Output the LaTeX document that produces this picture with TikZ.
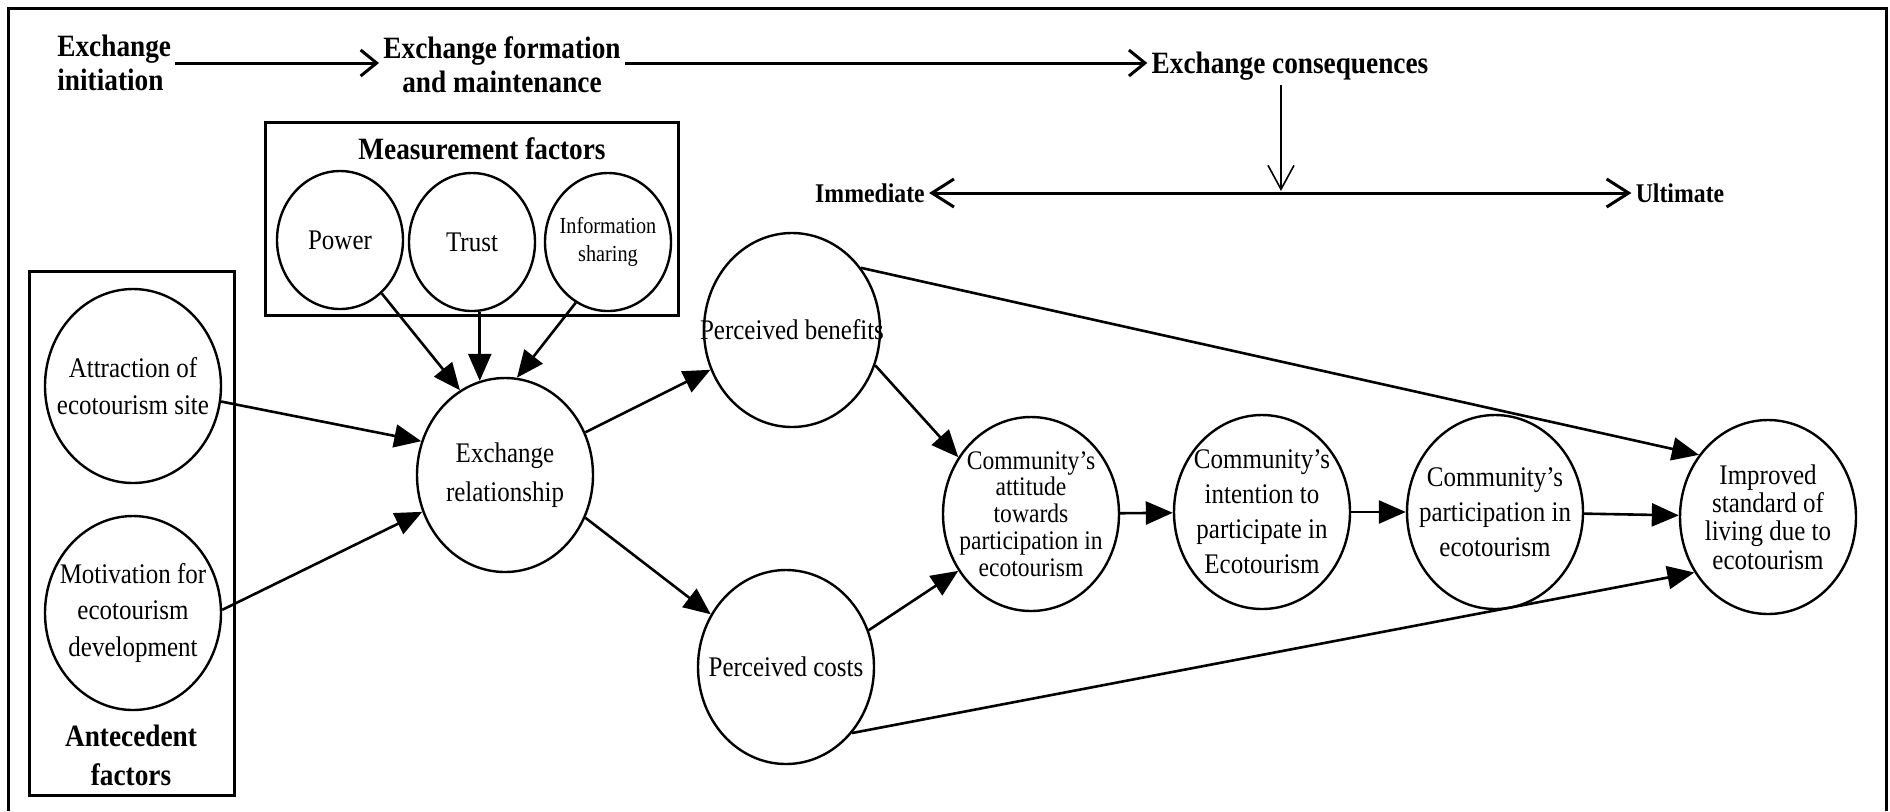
\documentclass[tikz,border=0pt]{standalone}
\usepackage{fontspec}
\setmainfont{Liberation Serif}[FakeStretch=0.88]
\usetikzlibrary{arrows.meta,shapes.geometric}
\begin{document}
\begin{tikzpicture}[x=0.5pt,y=-0.5pt,
  big/.style={draw, ellipse, line width=1.2pt, minimum width=88pt, minimum height=97pt, inner sep=0pt},
  small/.style={draw, ellipse, line width=1.2pt, minimum width=63pt, minimum height=69pt, inner sep=0pt},
  lbl/.style={align=center, inner sep=0pt, font=\fontsize{14.2}{#1}\selectfont},
  lbl/.default=18,
  hd/.style={align=center, inner sep=2pt, font=\bfseries\fontsize{15.5}{17}\selectfont},
  sub/.style={inner sep=2pt, font=\bfseries\fontsize{13.5}{16}\selectfont},
  box/.style={draw, line width=1.5pt},
  arr/.style={line width=1.3pt, -{Triangle[length=13.5pt,width=11.5pt]}},
  open/.style={line width=1.5pt, -{Straight Barb[length=8pt,width=13pt,line width=1.5pt]}},
  openthin/.style={line width=0.8pt, -{Straight Barb[length=12pt,width=13pt,line width=0.8pt]}},
  both/.style={line width=1.5pt, {Straight Barb[length=11pt,width=14pt,line width=1.5pt]}-{Straight Barb[length=11pt,width=14pt,line width=1.5pt]}}
]
\useasboundingbox (0,0) rectangle (1890,811);
\fill[white] (0,0) rectangle (1890,811);
% outer frame
\draw[line width=1.5pt] (8,811) -- (8,8) -- (1886,8) -- (1886,811);

% top stage headings
\node[hd, anchor=west, align=left] (init) at (53,63) {Exchange\\initiation};
\node[hd] (form) at (502,65) {Exchange formation\\and maintenance};
\node[hd] (cons) at (1290,66) {Exchange consequences};
\node[sub] (imm) at (870,193) {Immediate};
\node[sub] (ult) at (1680,193) {Ultimate};
\coordinate (mid) at (1281,193);

\draw[open] (init.east) -- (init.east -| form.west);
\draw[open] (form.east |- init.east) -- (init.east -| cons.west);
\draw[openthin] (cons.south -| mid) -- ([yshift=1pt]mid);
\draw[both] (imm.east) -- (ult.west);

% boxes
\draw[box] (265,122) rectangle (678,315);
\node[hd] (meas) at (482,149) {Measurement factors};
\draw[box] (29,271) rectangle (234,795);
\node[hd, font=\bfseries\fontsize{15.5}{19.5}\selectfont] (ante) at (131,755) {Antecedent\\factors};

% circles
\node[small] (power) at (340,240) {};
\node[small] (trust) at (472,242) {};
\node[small] (info) at (608,242) {};
\node[big] (attr) at (133,386) {};
\node[big] (mot) at (133,613) {};
\node[big] (exrel) at (505,475) {};
\node[big] (ben) at (792,330) {};
\node[big] (cost) at (786,667) {};
\node[big] (att) at (1031,514) {};
\node[big] (int) at (1262,512) {};
\node[big] (part) at (1495,512) {};
\node[big] (imp) at (1768,517) {};

% texts
\node[lbl] at (power.center) {Power};
\node[lbl] at (trust.center) {Trust};
\node[align=center, inner sep=0pt, font=\fontsize{11.5}{14}\selectfont] at (info.center) {Information\\sharing};
\node[lbl=18.5] at (attr.center) {Attraction of\\ecotourism site};
\node[lbl=18.4] at (mot.center) {Motivation for\\ecotourism\\development};
\node[lbl=19.2] at (exrel.center) {Exchange\\relationship};
\node[lbl] at (ben.center) {Perceived benefits};
\node[lbl] at (cost.center) {Perceived costs};
\node[align=center, inner sep=0pt, font=\fontsize{13.4}{13.4}\selectfont] at (att.center) {Community’s\\attitude\\towards\\participation in\\ecotourism};
\node[lbl=17.5] at (int.center) {Community’s\\intention to\\participate in\\Ecotourism};
\node[lbl=17.5] at (part.center) {Community’s\\participation in\\ecotourism};
\node[align=center, inner sep=0pt, font=\fontsize{14.2}{14.2}\selectfont] at (imp.center) {Improved\\standard of\\living due to\\ecotourism};

% connectors
\draw[arr] (attr.350) -- (exrel.158);
\draw[arr] (mot.2) -- (exrel.204);
\draw[arr] (power.308) -- (exrel.118);
\draw[arr] (exrel.105 |- trust.south) -- (exrel.105);
\draw[arr] (info.242) -- (exrel.83);
\draw[arr] (exrel.28) -- (ben.206);
\draw[arr] (exrel.332) -- (cost.145);
\draw[arr] (ben.337) -- (att.142);
\draw[arr] (cost.24) -- (att.218);
\draw[arr] (att) -- (int);
\draw[arr] (int) -- (part);
\draw[arr] (part) -- (imp);
\draw[arr] (ben.42) -- (imp.138);
\draw[arr] (cost.315) -- (imp.217);
\end{tikzpicture}
\end{document}
